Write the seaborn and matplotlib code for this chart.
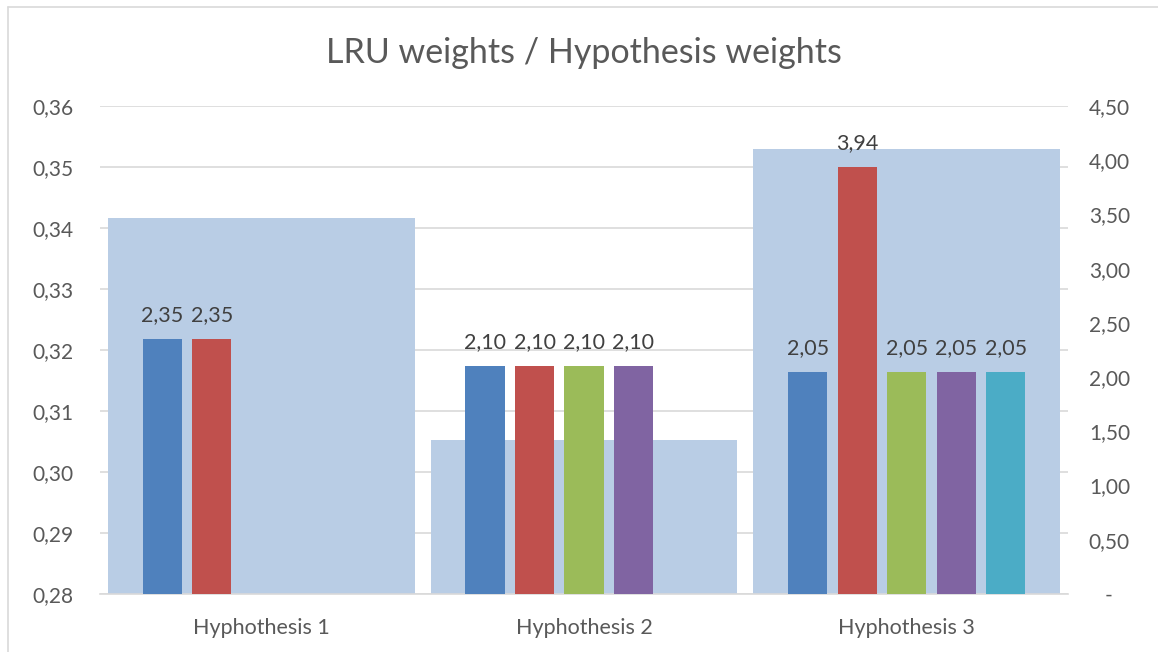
import numpy as np
import pandas as pd
import matplotlib
matplotlib.use("Agg")
import matplotlib.pyplot as plt
import seaborn as sns
from matplotlib.lines import Line2D

# Categories and values
hypotheses = ["Hyphothesis 1", "Hyphothesis 2", "Hyphothesis 3"]
hypothesis_weights = [0.3416, 0.3053, 0.3530]

lru_series = ["LRU 1", "LRU 2", "LRU 3", "LRU 4", "LRU 5"]
lru_1 = [2.35, 2.10, 2.05]
lru_2 = [2.35, 2.10, 3.94]
lru_3 = [np.nan, 2.10, 2.05]
lru_4 = [np.nan, 2.10, 2.05]
lru_5 = [np.nan, np.nan, 2.05]

left_ticks = [0.28, 0.29, 0.30, 0.31, 0.32, 0.33, 0.34, 0.35, 0.36]
right_ticks = [0.0, 0.5, 1.0, 1.5, 2.0, 2.5, 3.0, 3.5, 4.0, 4.5]

series_colors = ["#4f81bd", "#c0504d", "#9bbb59", "#8064a2", "#4bacc6"]
bg_color = "#b9cde5"
grid_color = "#d9d9d9"
tick_color = "#595959"
label_color = "#404040"

# Long-form table for the clustered bars
rows = []
for name, vals in zip(lru_series, [lru_1, lru_2, lru_3, lru_4, lru_5]):
    for hyp, v in zip(hypotheses, vals):
        if not np.isnan(v):
            rows.append({"hypothesis": hyp, "series": name, "weight": v})
lru_df = pd.DataFrame(rows)

sns.set_theme(style="white")
plt.rcParams["font.family"] = ["Lato", "DejaVu Sans"]

fig = plt.figure(figsize=(11.58, 6.52), dpi=100)
ax = fig.add_axes([100 / 1158, 1 - 594 / 652, 968 / 1158, 488 / 652])

# Hypothesis weights (left axis), wide background bars
sns.barplot(x=hypotheses, y=hypothesis_weights, ax=ax, color=bg_color,
            width=0.95, saturation=1, errorbar=None, linewidth=0)
ax.set_ylim(0.28, 0.36)
ax.set_yticks(left_ticks)
ax.set_yticklabels([f"{t:.2f}".replace(".", ",") for t in left_ticks])
ax.set_axisbelow(True)
ax.yaxis.grid(True, color=grid_color, lw=1.2)
ax.xaxis.grid(False)
for s in ["left", "right", "top"]:
    ax.spines[s].set_visible(False)
ax.spines["bottom"].set_color(grid_color)
ax.spines["bottom"].set_linewidth(1.2)
ax.tick_params(axis="y", length=0, pad=19, labelsize=15, labelcolor=tick_color)
ax.tick_params(axis="x", length=0, pad=17, labelsize=15.5, labelcolor=tick_color)
ax.set_xlabel("")
ax.set_ylabel("")

# LRU weights (right axis), clustered bars
ax2 = ax.twinx()
sns.barplot(data=lru_df, x="hypothesis", y="weight", hue="series",
            order=hypotheses, hue_order=lru_series, palette=series_colors,
            width=0.767, gap=0.21, saturation=1, errorbar=None,
            linewidth=0, legend=False, ax=ax2)
ax2.set_ylim(0, 4.5)
ax2.set_yticks(right_ticks)
ax2.set_yticklabels(["   -" if t == 0 else f"{t:.2f}".replace(".", ",") for t in right_ticks])
for s in ["left", "right", "top", "bottom"]:
    ax2.spines[s].set_visible(False)
ax2.tick_params(axis="y", length=0, pad=15, labelsize=15, labelcolor=tick_color)
ax2.set_ylabel("")
ax2.set_xlabel("")
ax2.set_xlim(-0.5, 2.5)
ax.set_xlim(-0.5, 2.5)

for cont in ax2.containers:
    ax2.bar_label(cont, fmt=lambda v: f"{v:.2f}".replace(".", ","),
                  padding=10, fontsize=15.5, color=label_color)

fig.text(0.504, 1 - 53 / 652, "LRU weights / Hypothesis weights",
         ha="center", va="center", fontsize=24.5, color=tick_color)

# Chart frame
fig.add_artist(Line2D([8 / 1158, 8 / 1158], [0, 1 - 7 / 652],
                      transform=fig.transFigure, color=grid_color, lw=1.2))
fig.add_artist(Line2D([8 / 1158, 1], [1 - 7 / 652, 1 - 7 / 652],
                      transform=fig.transFigure, color=grid_color, lw=1.2))

fig.savefig("out.png", dpi=100, facecolor="white")
